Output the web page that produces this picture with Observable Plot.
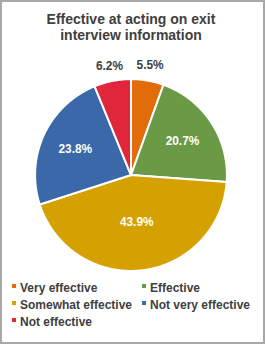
<!DOCTYPE html>
<html><head><meta charset="utf-8">
<script src="https://cdn.jsdelivr.net/npm/d3@7"></script>
<script src="https://cdn.jsdelivr.net/npm/@observablehq/plot@0.6"></script>
<style>
html,body{margin:0;padding:0;background:#fff;}
#box{position:relative;width:265px;height:344px;box-sizing:border-box;border:2px solid #a9a9a9;background:#fff;font-family:"Liberation Sans",Arial,sans-serif;overflow:hidden;}
#title{position:absolute;left:0;top:9px;width:258px;text-align:center;font-weight:bold;font-size:14px;line-height:16px;color:#404040;}
#chart{position:absolute;left:-2px;top:46px;}
.leg{position:absolute;font-weight:bold;font-size:12px;color:#404040;white-space:nowrap;line-height:14px;}
.leg i{display:inline-block;width:4px;height:4px;margin-right:4px;vertical-align:4px;}
</style></head>
<body><div id="box"><div id="title">Effective at acting on exit<br>interview information</div><div id="chart"></div><div id="legend"></div></div>
<script>
const categories = ["Very effective","Effective","Somewhat effective","Not very effective","Not effective"];
const values = [5.5, 20.7, 43.9, 23.8, 6.2];
const labels = ["5.5%","20.7%","43.9%","23.8%","6.2%"];
const palette = ["#e26b0a","#6a9a46","#d4a100","#3a68a8","#e0263a"];

const total = d3.sum(values);
let acc = 0;
const slices = categories.map((c,i)=>{
  const a0 = acc/total*2*Math.PI; acc += values[i];
  const a1 = acc/total*2*Math.PI;
  return {cat:c, a0, a1, v:values[i], label:labels[i]};
});
const poly = [];
for (const s of slices) {
  poly.push({cat:s.cat, x:0, y:0});
  const n = Math.max(4, Math.ceil((s.a1-s.a0)/(Math.PI/360)));
  for (let k=0;k<=n;k++){const a=s.a0+(s.a1-s.a0)*k/n; poly.push({cat:s.cat, x:Math.sin(a), y:Math.cos(a)});}
  poly.push({cat:s.cat, x:0, y:0});
}
const lab = slices.map(s=>{
  const m=(s.a0+s.a1)/2; const out = s.v < 10; const r = out ? 1.16 : (s.v > 40 ? 0.5 : 0.64);
  return {x:r*Math.sin(m), y:r*Math.cos(m), label:s.label, out};
});
const R = 97, cx = 132, cy = 128;
const chart = Plot.plot({
  width: 266, height: 230, margin: 0,
  x: {domain:[-1,1], range:[cx-R, cx+R], axis:null},
  y: {domain:[-1,1], range:[cy+R, cy-R], axis:null},
  color: {domain: categories, range: palette},
  style: {fontFamily:'"Liberation Sans",Arial,sans-serif', background:"transparent"},
  marks: [
    Plot.line(poly, {x:"x", y:"y", z:"cat", fill:"cat", stroke:"white", strokeWidth:2, strokeLinejoin:"round", curve:"linear"}),
    Plot.text(lab, {x:"x", y:"y", text:"label", fill:d=>d.out?"#404040":"white", fontWeight:"bold", fontSize:12})
  ]
});
document.getElementById("chart").appendChild(chart);
const leg = document.getElementById("legend");
const lx = [10, 140], ly = [279, 296, 313];
categories.forEach((c,i)=>{
  const d = document.createElement("div"); d.className="leg";
  d.style.left = lx[i%2]+"px"; d.style.top = ly[Math.floor(i/2)]+"px";
  d.innerHTML = `<i style="background:${palette[i]}"></i>${c}`;
  leg.appendChild(d);
});
</script></body></html>
